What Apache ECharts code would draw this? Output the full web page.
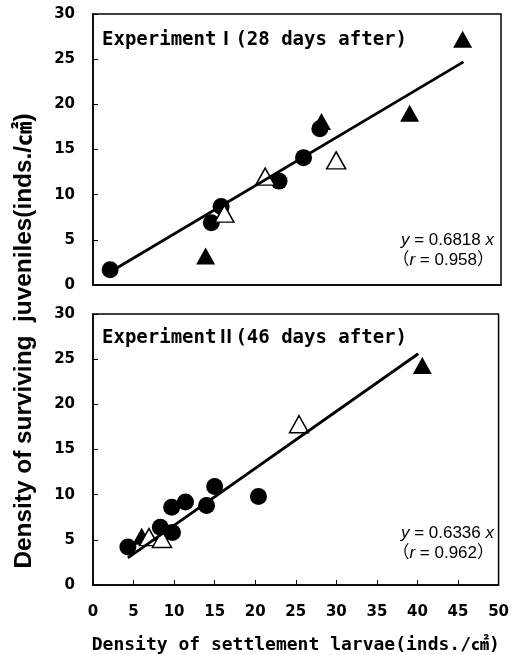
<!DOCTYPE html>
<html>
<head>
<meta charset="utf-8">
<script src="https://cdn.jsdelivr.net/npm/echarts@6/dist/echarts.min.js"></script>
<style>
  html, body { margin: 0; padding: 0; background: #fff; }
  #chart { width: 512px; height: 655px; }
</style>
</head>
<body>
<div id="chart"></div>
<script>
// x ticks / y ticks
var xTicks = [0, 5, 10, 15, 20, 25, 30, 35, 40, 45, 50];
var yTicks = [0, 5, 10, 15, 20, 25, 30];

// Experiment I (28 days after) : [settlement larvae, surviving juveniles]
var exp1Circles = [[2.1, 1.7], [14.5, 6.9], [15.7, 8.7], [22.8, 11.5], [25.8, 14.1], [27.8, 17.3]];
var exp1FilledTri = [[13.8, 3.2], [28.0, 18.1], [38.8, 19.0], [45.3, 27.2]];
var exp1OpenTri = [[16.1, 7.9], [21.1, 12.0], [29.8, 13.8]];
var exp1Line = [[2.2, 1.5], [45.4, 24.7]];

// Experiment II (46 days after)
var exp2Circles = [[4.3, 4.2], [8.3, 6.4], [9.8, 5.8], [9.7, 8.6], [11.4, 9.2], [14.0, 8.8], [15.0, 10.9], [20.4, 9.8]];
var exp2FilledTri = [[6.0, 5.4], [40.6, 24.3]];
var exp2OpenTri = [[6.9, 5.3], [8.5, 5.1], [25.4, 17.8]];
var exp2Line = [[4.3, 3.0], [40.1, 25.6]];

var monoBold = "'DejaVu Sans Mono', 'Noto Sans CJK JP', monospace";
var boldSans = "'DejaVu Sans', 'Noto Sans CJK JP', sans-serif";
var sansFont = "'Liberation Sans', 'Noto Sans CJK JP', sans-serif";

var myChart = echarts.init(document.getElementById('chart'));

function xAxisOf(idx, showLabels) {
    return {
        type: 'value',
        gridIndex: idx,
        min: xTicks[0],
        max: xTicks[xTicks.length - 1],
        interval: xTicks[1] - xTicks[0],
        axisLine: { show: true, onZero: false, lineStyle: { color: '#000', width: 1.5 } },
        axisTick: { show: showLabels, inside: true, length: 5, lineStyle: { color: '#000' } },
        axisLabel: {
            show: showLabels, margin: 20, color: '#000',
            fontFamily: boldSans, fontWeight: 'bold', fontSize: 15
        },
        splitLine: { show: false },
        name: showLabels ? 'Density of settlement larvae(inds./㎠)' : '',
        nameLocation: 'middle',
        nameGap: 51,
        nameTextStyle: { color: '#000', fontFamily: monoBold, fontWeight: 'bold', fontSize: 18 }
    };
}

function yAxisOf(idx) {
    return {
        type: 'value',
        gridIndex: idx,
        min: yTicks[0],
        max: yTicks[yTicks.length - 1],
        interval: yTicks[1] - yTicks[0],
        axisLine: { show: true, lineStyle: { color: '#000', width: 1.5 } },
        axisTick: { show: true, inside: true, length: 5, lineStyle: { color: '#000' } },
        axisLabel: {
            margin: 18, color: '#000',
            fontFamily: boldSans, fontWeight: 'bold', fontSize: 15
        },
        splitLine: { show: false }
    };
}

function pointsOf(idx, circles, filled, open, line) {
    return [
        {
            type: 'scatter', xAxisIndex: idx, yAxisIndex: idx, data: circles,
            symbol: 'circle', symbolSize: 17,
            itemStyle: { color: '#000', opacity: 1 }, silent: true
        },
        {
            type: 'scatter', xAxisIndex: idx, yAxisIndex: idx, data: filled,
            symbol: 'triangle', symbolSize: [19, 17],
            itemStyle: { color: '#000', opacity: 1 }, silent: true
        },
        {
            type: 'scatter', xAxisIndex: idx, yAxisIndex: idx, data: open,
            symbol: 'triangle', symbolSize: [19, 17],
            itemStyle: { color: '#fff', borderColor: '#000', borderWidth: 1.5, opacity: 1 }, silent: true
        },
        {
            type: 'line', xAxisIndex: idx, yAxisIndex: idx, data: line,
            symbol: 'none', lineStyle: { color: '#000', width: 2.8 }, silent: true, z: 5
        }
    ];
}

function equationText(rightX, topY, slope, r) {
    return {
        type: 'text', x: rightX, y: topY,
        style: {
            text: '{i|y}{n| = ' + slope + ' }{i|x}\n{n|（}{i|r}{n| = ' + r + '）}',
            align: 'right', verticalAlign: 'top',
            rich: {
                i: { fontFamily: sansFont, fontStyle: 'italic', fontSize: 17, fill: '#000', lineHeight: 20 },
                n: { fontFamily: sansFont, fontSize: 17, fill: '#000', lineHeight: 20 }
            }
        }
    };
}

var option = {
    animation: false,
    backgroundColor: '#fff',
    grid: [
        { left: 93, top: 14, width: 408, height: 271, show: true, borderColor: '#000', borderWidth: 1.5, backgroundColor: 'transparent' },
        { left: 93, top: 314, width: 408, height: 271, show: true, borderColor: '#000', borderWidth: 1.5, backgroundColor: 'transparent' }
    ],
    title: [
        {
            text: 'ExperimentⅠ(28 days after)', left: 102, top: 31, padding: 0,
            textStyle: { fontFamily: monoBold, fontWeight: 'bold', fontSize: 19, color: '#000' }
        },
        {
            text: 'ExperimentⅡ(46 days after)', left: 102, top: 329, padding: 0,
            textStyle: { fontFamily: monoBold, fontWeight: 'bold', fontSize: 19, color: '#000' }
        }
    ],
    graphic: [
        equationText(494, 230, '0.6818', '0.958'),
        equationText(494, 523, '0.6336', '0.962'),
        {
            type: 'text',
            rotation: Math.PI / 2,
            x: 25, y: 341,
            scaleX: 1.06,
            style: {
                text: 'Density of surviving  juveniles(inds./㎠)',
                font: "bold 23px 'Liberation Sans', 'Noto Sans CJK JP', sans-serif",
                fill: '#000', align: 'center', verticalAlign: 'middle'
            }
        }
    ],
    xAxis: [xAxisOf(0, false), xAxisOf(1, true)],
    yAxis: [yAxisOf(0), yAxisOf(1)],
    series: pointsOf(0, exp1Circles, exp1FilledTri, exp1OpenTri, exp1Line)
        .concat(pointsOf(1, exp2Circles, exp2FilledTri, exp2OpenTri, exp2Line))
};
myChart.setOption(option, true);
</script>
</body>
</html>
